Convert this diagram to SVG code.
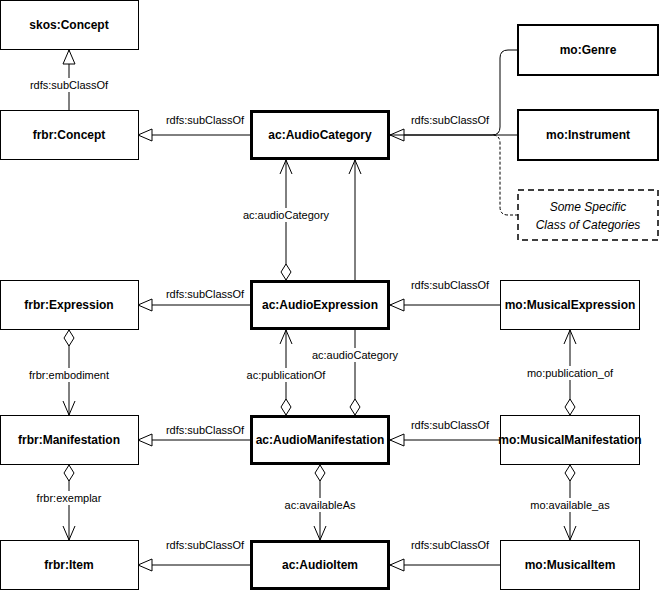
<svg xmlns="http://www.w3.org/2000/svg" width="660" height="592" viewBox="0 0 660 592">
<style>
.n{fill:#fff;stroke:#000;stroke-width:1}
.t{stroke-width:3}
.d{stroke-dasharray:6 4;stroke-width:1.5}
.nt{font-family:"Liberation Sans",Arial,sans-serif;font-size:12px;font-weight:bold;text-anchor:middle}
.it{font-family:"Liberation Sans",Arial,sans-serif;font-size:12px;font-style:italic;text-anchor:middle}
.l{font-family:"Liberation Sans",Arial,sans-serif;font-size:11px;text-anchor:middle}
.c{fill:none;stroke:#000;stroke-width:1}
.lb{fill:#fff}
</style>
<defs>
<marker id="tri" markerWidth="16" markerHeight="14" refX="15" refY="7" orient="auto" markerUnits="userSpaceOnUse"><path d="M1,1 L15,7 L1,13 Z" fill="#fff" stroke="#000"/></marker>
<marker id="open" markerWidth="16" markerHeight="14" refX="15" refY="7" orient="auto" markerUnits="userSpaceOnUse"><path d="M1,1 L15,7 L1,13" fill="none" stroke="#000"/></marker>
<marker id="dia" markerWidth="20" markerHeight="12" refX="1" refY="6" orient="auto" markerUnits="userSpaceOnUse"><path d="M1,6 L9,1 L17,6 L9,11 Z" fill="#fff" stroke="#000"/></marker>
</defs>
<g id="connectors">
<path class="c" d="M69,110 V50" marker-end="url(#tri)"/>
<path class="c" d="M250,135 H138" marker-end="url(#tri)"/>
<path class="c" d="M518,50 H508 Q500,50 500,58 V127 Q500,135 492,135 H390" marker-end="url(#tri)"/>
<path class="c" d="M518,135 H390"/>
<path class="c" d="M518,215 H508 Q500,215 500,207 V143 Q500,135 492,135" stroke-dasharray="3 2"/>
<path class="c" d="M286,280 V160" marker-start="url(#dia)" marker-end="url(#open)"/>
<path class="c" d="M355,415 V160" marker-start="url(#dia)" marker-end="url(#open)"/>
<path class="c" d="M250,305 H138" marker-end="url(#tri)"/>
<path class="c" d="M500,305 H390" marker-end="url(#tri)"/>
<path class="c" d="M69,330 V415" marker-start="url(#dia)" marker-end="url(#open)"/>
<path class="c" d="M286,415 V330" marker-start="url(#dia)" marker-end="url(#open)"/>
<path class="c" d="M570,415 V330" marker-start="url(#dia)" marker-end="url(#open)"/>
<path class="c" d="M250,440 H138" marker-end="url(#tri)"/>
<path class="c" d="M500,440 H390" marker-end="url(#tri)"/>
<path class="c" d="M69,465 V540" marker-start="url(#dia)" marker-end="url(#open)"/>
<path class="c" d="M320,465 V540" marker-start="url(#dia)" marker-end="url(#open)"/>
<path class="c" d="M570,465 V540" marker-start="url(#dia)" marker-end="url(#open)"/>
<path class="c" d="M250,565 H138" marker-end="url(#tri)"/>
<path class="c" d="M500,565 H390" marker-end="url(#tri)"/>
<rect class="lb" x="42" y="78" width="54" height="14"/><text class="l" x="69" y="89">rdfs:subClassOf</text>
<text class="l" x="205" y="124">rdfs:subClassOf</text>
<text class="l" x="450" y="124">rdfs:subClassOf</text>
<rect class="lb" x="245" y="208" width="82" height="14"/><text class="l" x="286" y="219">ac:audioCategory</text>
<text class="l" x="205" y="298">rdfs:subClassOf</text>
<text class="l" x="450" y="289">rdfs:subClassOf</text>
<rect class="lb" x="30" y="368" width="78" height="14"/><text class="l" x="69" y="379">frbr:embodiment</text>
<rect class="lb" x="245" y="368" width="82" height="14"/><text class="l" x="286" y="379">ac:publicationOf</text>
<rect class="lb" x="312" y="348" width="86" height="14"/><text class="l" x="355" y="359">ac:audioCategory</text>
<rect class="lb" x="528" y="366" width="84" height="14"/><text class="l" x="570" y="377">mo:publication_of</text>
<text class="l" x="205" y="434">rdfs:subClassOf</text>
<text class="l" x="450" y="429">rdfs:subClassOf</text>
<rect class="lb" x="35" y="491" width="68" height="14"/><text class="l" x="69" y="502">frbr:exemplar</text>
<rect class="lb" x="283" y="498" width="74" height="14"/><text class="l" x="320" y="509">ac:availableAs</text>
<rect class="lb" x="530" y="498" width="80" height="14"/><text class="l" x="570" y="509">mo:available_as</text>
<text class="l" x="205" y="549">rdfs:subClassOf</text>
<text class="l" x="450" y="549">rdfs:subClassOf</text>
</g>
<g id="skos-concept"><rect class="n" x="0.5" y="0.5" width="138" height="49"/><text class="nt" x="69" y="29">skos:Concept</text></g>
<g id="frbr-concept"><rect class="n" x="0.5" y="110.5" width="138" height="49"/><text class="nt" x="69" y="139">frbr:Concept</text></g>
<g id="ac-audiocategory"><rect class="n t" x="251.5" y="111.5" width="137" height="47"/><text class="nt" x="320" y="139">ac:AudioCategory</text></g>
<g id="mo-genre"><rect class="n t" x="518" y="25" width="140" height="50" style="stroke-width:2"/><text class="nt" x="588" y="54">mo:Genre</text></g>
<g id="mo-instrument"><rect class="n" x="518" y="110" width="140" height="50" style="stroke-width:2"/><text class="nt" x="588" y="139">mo:Instrument</text></g>
<g id="some-specific"><rect class="n d" x="518" y="190" width="140" height="50"/><text class="it" x="588" y="211">Some Specific</text><text class="it" x="588" y="229">Class of Categories</text></g>
<g id="frbr-expression"><rect class="n" x="0.5" y="280.5" width="138" height="49"/><text class="nt" x="69" y="309">frbr:Expression</text></g>
<g id="ac-audioexpression"><rect class="n t" x="251.5" y="281.5" width="137" height="47"/><text class="nt" x="320" y="309">ac:AudioExpression</text></g>
<g id="mo-musicalexpression"><rect class="n" x="500.5" y="280.5" width="139" height="49"/><text class="nt" x="570" y="309">mo:MusicalExpression</text></g>
<g id="frbr-manifestation"><rect class="n" x="0.5" y="415.5" width="138" height="49"/><text class="nt" x="69" y="444">frbr:Manifestation</text></g>
<g id="ac-audiomanifestation"><rect class="n t" x="251.5" y="416.5" width="137" height="47"/><text class="nt" x="320" y="444">ac:AudioManifestation</text></g>
<g id="mo-musicalmanifestation"><rect class="n" x="500.5" y="415.5" width="139" height="49"/><text class="nt" x="570" y="444">mo:MusicalManifestation</text></g>
<g id="frbr-item"><rect class="n" x="0.5" y="540.5" width="138" height="49"/><text class="nt" x="69" y="569">frbr:Item</text></g>
<g id="ac-audioitem"><rect class="n t" x="251.5" y="541.5" width="137" height="47"/><text class="nt" x="320" y="569">ac:AudioItem</text></g>
<g id="mo-musicalitem"><rect class="n" x="500.5" y="540.5" width="139" height="49"/><text class="nt" x="570" y="569">mo:MusicalItem</text></g>
</svg>
